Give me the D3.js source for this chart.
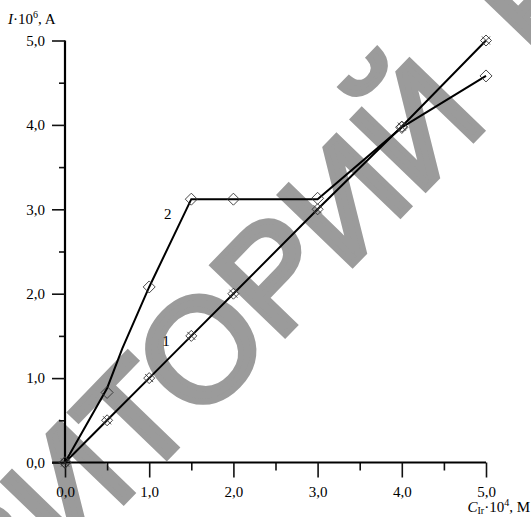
<!DOCTYPE html>
<html>
<head>
<meta charset="utf-8">
<script src="https://cdn.jsdelivr.net/npm/d3@7"></script>
<style>
  html, body { margin: 0; padding: 0; background: #fff; }
  svg { display: block; }
  text { font-family: "Liberation Serif", "Times New Roman", serif; }
</style>
</head>
<body>
<svg id="chart" width="531" height="517"></svg>
<script>
// ---- data ----
const xMajorTicks = [0, 1, 2, 3, 4, 5];
const xMinorTicks = [0.5, 1.5, 2.5, 3.5, 4.5];
const yMajorTicks = [0, 1, 2, 3, 4, 5];
const yMinorTicks = [0.5, 1.5, 2.5, 3.5, 4.5];

// series 1 (diamond with cross markers)
const s1X = [0, 0.5, 1.0, 1.5, 2.0, 3.0, 4.0, 5.0];
const s1Y = [0, 0.5, 1.0, 1.5, 2.0, 3.0, 3.98, 5.0];
// series 2 (open diamond markers)
const s2X = [0, 0.5, 1.0, 1.5, 2.0, 3.0, 4.0, 5.0];
const s2Y = [0, 0.83, 2.08, 3.12, 3.12, 3.13, 3.97, 4.58];
// series 2 drawn curve vertices
const s2LineX = [0, 0.5, 0.68, 1.0, 1.5, 3.0, 4.0, 5.0];
const s2LineY = [0, 0.88, 1.35, 2.08, 3.12, 3.12, 3.97, 4.58];

const seriesLabels = [
  { text: "1", x: 1.2, y: 1.38 },
  { text: "2", x: 1.22, y: 2.88 }
];
const watermarkBefore = "РЕПОЗ";
const watermarkMid = "ИТОРИЙ";
const watermarkAfter = "БГПУ";

// ---- layout ----
const svg = d3.select("#chart");
const x = d3.scaleLinear().domain([0, 5]).range([65, 486]);
const y = d3.scaleLinear().domain([0, 5]).range([462.5, 40.5]);
const fmt = v => d3.format(".1f")(v).replace(".", ",");

// watermark
const wm = svg.append("g")
  .attr("transform", "translate(67.5,560) rotate(-46)")
  .attr("fill", "#9b9b9b").attr("stroke", "#9b9b9b").attr("stroke-width", 6)
  .attr("stroke-linejoin", "miter");
wm.append("text").attr("x", 0).attr("y", 0).attr("text-anchor", "end")
  .style("font-family", "'Liberation Sans', Arial, sans-serif")
  .style("font-size", "146px").text(watermarkBefore);
const wt = wm.append("text").attr("x", 0).attr("y", 0).attr("text-anchor", "start")
  .style("font-family", "'Liberation Sans', Arial, sans-serif")
  .style("font-size", "146px");
wt.append("tspan").text(watermarkMid);
wt.append("tspan").attr("dx", 75).text(watermarkAfter);

// axes
const gx = svg.append("g").attr("transform", `translate(0,${y(0)})`);
gx.call(d3.axisBottom(x).tickValues(xMinorTicks).tickSize(8).tickFormat(""));
gx.call(g => g.selectAll(".domain").remove());
const gx2 = svg.append("g").attr("transform", `translate(0,${y(0)})`);
gx2.call(d3.axisBottom(x).tickValues(xMajorTicks).tickSize(15).tickPadding(9).tickFormat(fmt));

const gy = svg.append("g").attr("transform", `translate(${x(0)},0)`);
gy.call(d3.axisLeft(y).tickValues(yMinorTicks).tickSize(6).tickFormat(""));
gy.call(g => g.selectAll(".domain").remove());
const gy2 = svg.append("g").attr("transform", `translate(${x(0)},0)`);
gy2.call(d3.axisLeft(y).tickValues(yMajorTicks).tickSize(13).tickPadding(7).tickFormat(fmt));

svg.selectAll(".domain").attr("stroke", "#000").attr("stroke-width", 2.2);
svg.selectAll(".tick line").attr("stroke", "#111").attr("stroke-width", 1.6);
svg.selectAll(".tick text")
  .style("font-family", "'Liberation Serif', 'Times New Roman', serif")
  .style("font-size", "15px").attr("fill", "#000");
gx2.select(".domain").attr("d", `M${x(0) - 13},0H${x(5)}`);
gy2.select(".domain").attr("d", `M0,${y(5)}V${y(0)}`);

// lines
const line = d3.line().x(d => x(d[0])).y(d => y(d[1]));
const s1 = s1X.map((v, i) => [v, s1Y[i]]);
const s2 = s2X.map((v, i) => [v, s2Y[i]]);
const s2Line = s2LineX.map((v, i) => [v, s2LineY[i]]);

svg.append("path").datum(s1).attr("d", line)
  .attr("fill", "none").attr("stroke", "#000").attr("stroke-width", 2);
svg.append("path").datum(s2Line).attr("d", line)
  .attr("fill", "none").attr("stroke", "#000").attr("stroke-width", 2);

// markers series 2: open diamonds
const dm = 6;
svg.append("g").selectAll("path").data(s2).join("path")
  .attr("transform", d => `translate(${x(d[0])},${y(d[1])})`)
  .attr("d", `M0,${-dm}L${dm},0L0,${dm}L${-dm},0Z`)
  .attr("fill", "none").attr("stroke", "#333").attr("stroke-width", 0.9);

// markers series 1: diamond with cross
const d1 = 5.5;
const m1 = svg.append("g").selectAll("g").data(s1).join("g")
  .attr("transform", d => `translate(${x(d[0])},${y(d[1])})`);
m1.append("path")
  .attr("d", `M0,${-d1}L${d1},0L0,${d1}L${-d1},0Z`)
  .attr("fill", "none").attr("stroke", "#333").attr("stroke-width", 0.9);
m1.append("path")
  .attr("d", `M-4,-4L4,4M-4,4L4,-4`)
  .attr("fill", "none").attr("stroke", "#333").attr("stroke-width", 0.9);

// series labels
svg.append("g").selectAll("text").data(seriesLabels).join("text")
  .attr("x", d => x(d.x)).attr("y", d => y(d.y))
  .attr("text-anchor", "middle")
  .style("font-size", "15px").attr("fill", "#000")
  .text(d => d.text);

// axis titles
const yt = svg.append("text").attr("x", 8).attr("y", 24).style("font-size", "15px");
yt.append("tspan").style("font-style", "italic").text("I");
yt.append("tspan").text("·10");
yt.append("tspan").attr("dy", -6).style("font-size", "10px").text("6");
yt.append("tspan").attr("dy", 6).text(", A");

const xt = svg.append("text").attr("x", 530).attr("y", 512).attr("text-anchor", "end").style("font-size", "15px");
xt.append("tspan").style("font-style", "italic").text("C");
xt.append("tspan").attr("dy", 2).style("font-size", "10px").text("Ir");
xt.append("tspan").attr("dy", -2).text("·10");
xt.append("tspan").attr("dy", -6).style("font-size", "10px").text("4");
xt.append("tspan").attr("dy", 6).text(", M");
</script>
</body>
</html>
